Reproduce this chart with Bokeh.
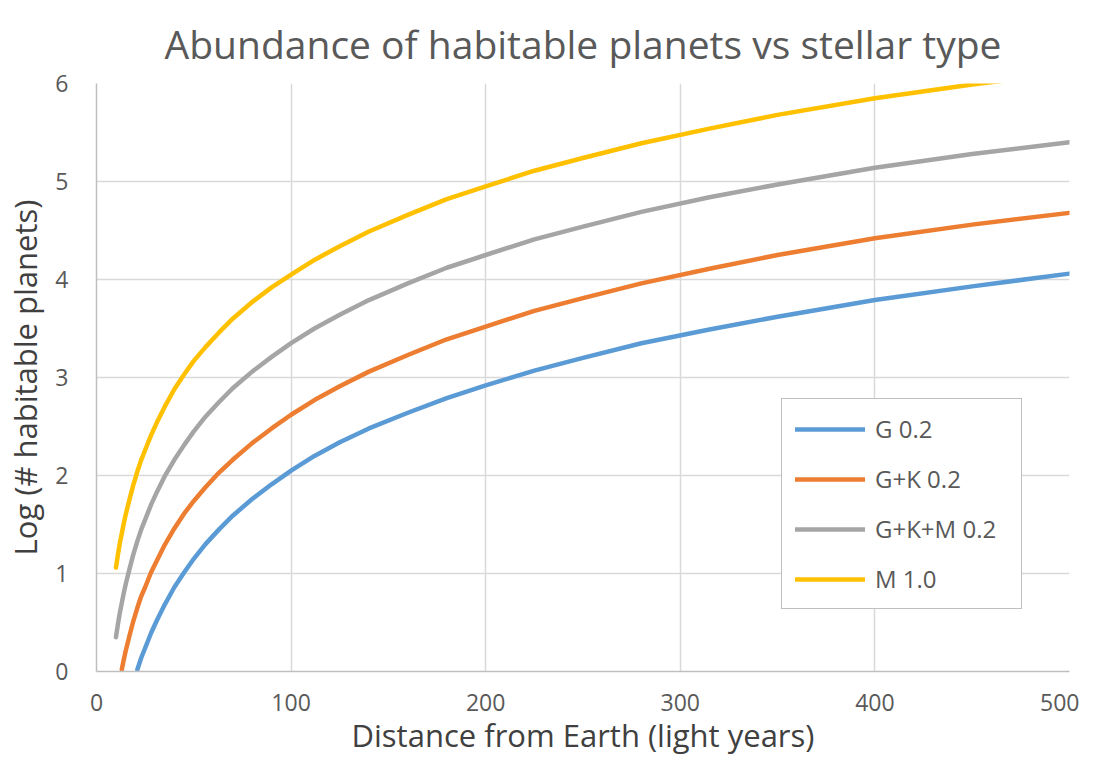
from bokeh.plotting import figure
from bokeh.models import FixedTicker, Legend, LegendItem, Range1d
from bokeh.embed import file_html
from bokeh.resources import INLINE

# ---- data ----
g_x = [21, 23, 25, 28, 31, 35, 40, 45, 50, 56, 63, 70, 80, 90, 100, 112, 125, 140, 160, 180, 200, 225, 250, 280, 315, 350, 400, 450, 500]
g_y = [0.02, 0.14, 0.24, 0.39, 0.52, 0.68, 0.86, 1.01, 1.15, 1.30, 1.45, 1.59, 1.76, 1.91, 2.05, 2.20, 2.34, 2.48, 2.64, 2.79, 2.92, 3.07, 3.20, 3.35, 3.49, 3.62, 3.79, 3.93, 4.06]

gk_x = [13, 14, 15, 17, 19, 21, 23, 25, 28, 31, 35, 40, 45, 50, 56, 63, 70, 80, 90, 100, 112, 125, 140, 160, 180, 200, 225, 250, 280, 315, 350, 400, 450, 500]
gk_y = [0.02, 0.12, 0.21, 0.37, 0.52, 0.65, 0.77, 0.86, 1.01, 1.13, 1.29, 1.46, 1.61, 1.74, 1.88, 2.03, 2.16, 2.33, 2.48, 2.62, 2.77, 2.91, 3.06, 3.23, 3.39, 3.52, 3.68, 3.81, 3.96, 4.11, 4.25, 4.42, 4.56, 4.68]

gkm_x = [10, 11, 12, 13, 14, 15, 17, 19, 21, 23, 25, 28, 31, 35, 40, 45, 50, 56, 63, 70, 80, 90, 100, 112, 125, 140, 160, 180, 200, 225, 250, 280, 315, 350, 400, 450, 500]
gkm_y = [0.35, 0.48, 0.60, 0.70, 0.80, 0.89, 1.05, 1.20, 1.33, 1.45, 1.55, 1.70, 1.83, 1.99, 2.16, 2.31, 2.45, 2.60, 2.75, 2.89, 3.06, 3.21, 3.35, 3.50, 3.64, 3.79, 3.96, 4.12, 4.25, 4.41, 4.54, 4.69, 4.84, 4.97, 5.14, 5.28, 5.40]

m_x = [10, 11, 12, 13, 14, 15, 17, 19, 21, 23, 25, 28, 31, 35, 40, 45, 50, 56, 63, 70, 80, 90, 100, 112, 125, 140, 160, 180, 200, 225, 250, 280, 315, 350, 400, 450, 500]
m_y = [1.06, 1.19, 1.31, 1.41, 1.51, 1.60, 1.76, 1.91, 2.04, 2.16, 2.26, 2.41, 2.54, 2.70, 2.88, 3.03, 3.17, 3.31, 3.46, 3.60, 3.77, 3.92, 4.05, 4.20, 4.34, 4.49, 4.66, 4.82, 4.95, 5.11, 5.24, 5.39, 5.54, 5.68, 5.85, 5.99, 6.11]

series_names = ["G 0.2", "G+K 0.2", "G+K+M 0.2", "M 1.0"]
series_colors = ["#5B9BD5", "#ED7D31", "#A5A5A5", "#FFC000"]
x_ticks = [0, 100, 200, 300, 400, 500]
y_ticks = [0, 1, 2, 3, 4, 5, 6]
title_text = "Abundance of habitable planets vs stellar type"
x_title = "Distance from Earth (light years)"
y_title = "Log (# habitable planets)"

FONT = "Open Sans"
TXT = "#595959"

p = figure(width=1079, height=758, output_backend="svg", toolbar_location=None,
           x_range=Range1d(0, 500), y_range=Range1d(0, 6),
           min_border_left=96, min_border_right=10, min_border_top=82, min_border_bottom=87)
p.outline_line_color = None
p.background_fill_color = "white"
p.border_fill_color = "white"

p.title.text = title_text
p.title.align = "center"
p.title.text_font = FONT
p.title.text_font_size = "39px"
p.title.text_font_style = "normal"
p.title.text_color = TXT
p.title.standoff = 28

for ax in (p.xaxis[0], p.yaxis[0]):
    ax.axis_line_color = "#BFBFBF"
    ax.axis_line_width = 1.5
    ax.major_tick_line_color = None
    ax.minor_tick_line_color = None
    ax.major_tick_out = 0
    ax.major_tick_in = 0
    ax.minor_tick_out = 0
    ax.minor_tick_in = 0
    ax.major_label_text_font = FONT
    ax.major_label_text_font_size = "23px"
    ax.major_label_text_color = TXT
    ax.axis_label_text_font = FONT
    ax.axis_label_text_font_size = "31px"
    ax.axis_label_text_font_style = "normal"
    ax.axis_label_text_color = "#404040"

p.xaxis.ticker = FixedTicker(ticks=x_ticks)
p.yaxis.ticker = FixedTicker(ticks=y_ticks)
p.xaxis.axis_label = x_title
p.yaxis.axis_label = y_title
p.xaxis.major_label_standoff = 22
p.xaxis.axis_label_standoff = 0
p.xaxis.axis_label_text_line_height = 0.7
p.yaxis.major_label_standoff = 28
p.yaxis.axis_label_standoff = 6

p.xgrid.ticker = FixedTicker(ticks=x_ticks)
p.ygrid.ticker = FixedTicker(ticks=y_ticks)
for g in (p.xgrid[0], p.ygrid[0]):
    g.grid_line_color = "#D9D9D9"
    g.grid_line_width = 1.5

xs = [g_x, gk_x, gkm_x, m_x]
ys = [g_y, gk_y, gkm_y, m_y]
items = []
for name, col, x, y in zip(series_names, series_colors, xs, ys):
    r = p.line(x, y, line_color=col, line_width=4.5, line_cap="round", line_join="round")
    items.append(LegendItem(label=name, renderers=[r]))

legend = Legend(items=items, location=(685, 62),
                glyph_width=70, glyph_height=32, label_height=32, label_width=133,
                spacing=17, padding=13, label_standoff=10,
                label_text_font=FONT, label_text_font_size="24px", label_text_color=TXT,
                border_line_color="#7F7F7F", border_line_width=1.2,
                background_fill_color="white", background_fill_alpha=1.0)
p.add_layout(legend, "center")

open("out.html", "w").write(file_html(p, INLINE))
